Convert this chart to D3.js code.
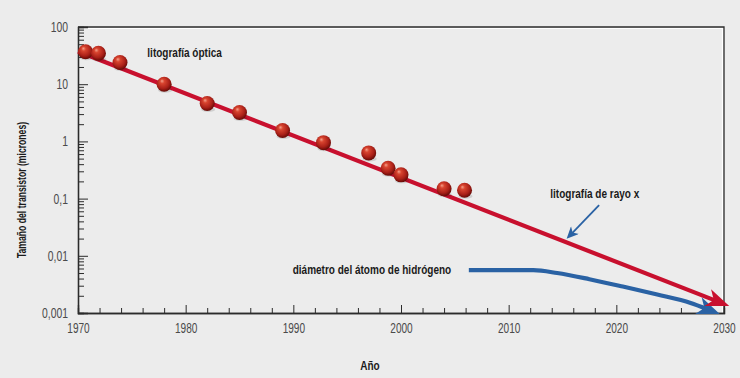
<!DOCTYPE html>
<html>
<head>
<meta charset="utf-8">
<script src="https://cdn.jsdelivr.net/npm/d3@7"></script>
<style>
  html, body { margin: 0; padding: 0; background: #ececec; }
  svg { display: block; }
  .tick-label { font-family: "Liberation Sans", Arial, sans-serif; font-size: 14px; fill: #4a4a4a; }
  .bold { font-family: "Liberation Sans", Arial, sans-serif; font-weight: bold; font-size: 13px; fill: #1a1a1a; }
</style>
</head>
<body>
<svg id="chart"></svg>
<script>
// measured points (year, size in microns)
var years = [1970.7, 1971.9, 1973.9, 1978, 1982, 1985, 1989, 1992.8, 1997, 1998.8, 2000, 2004, 2005.9];
var sizes = [37, 34.7, 24, 10, 4.6, 3.2, 1.55, 0.95, 0.63, 0.34, 0.26, 0.149, 0.14];

// optical lithography trend line
var trendYears = [1970, 2029.1];
var trendSizes = [37.3, 0.00168];

// hydrogen atom diameter curve
var hydYears = [2006.3, 2012.3, 2014.5, 2017.5, 2020.6, 2023.8, 2026.9, 2028.4];
var hydSizes = [0.0056, 0.0056, 0.0050, 0.0039, 0.0029, 0.0021, 0.0015, 0.00118];

// x-ray pointer
var pointerYears = [2018.4, 2015.9];
var pointerSizes = [0.077, 0.025];

var xTicks = [1970, 1980, 1990, 2000, 2010, 2020, 2030];
var yTicks = [100, 10, 1, 0.1, 0.01, 0.001];
var yTickLabels = ['100', '10', '1', '0,1', '0,01', '0,001'];

var labelTexts = ['litografía óptica', 'litografía de rayo x', 'diámetro del átomo de hidrógeno'];
var labelYears = [1979.9, 2018, 1997.3];
var labelSizes = [30, 0.102, 0.0049];

var W = 740, H = 378,
    mLeft = 78, mRight = 724, mTop = 27, mBottom = 313;

var svg = d3.select('#chart').attr('width', W).attr('height', H);

svg.append('rect').attr('width', W).attr('height', H).attr('fill', '#ececec');

var x = d3.scaleLinear().domain([1970, 2030]).range([mLeft, mRight]);
var y = d3.scaleLog().domain([0.001, 100]).range([mBottom, mTop]);

// squeeze text to look like a condensed face
function condense(sel, k) {
  sel.each(function() {
    var w = this.getComputedTextLength();
    d3.select(this).attr('textLength', w * k).attr('lengthAdjust', 'spacingAndGlyphs');
  });
}

var defs = svg.append('defs');
var grad = defs.append('radialGradient').attr('id', 'ball')
  .attr('cx', '45%').attr('cy', '40%').attr('r', '60%')
  .attr('fx', '35%').attr('fy', '28%');
grad.append('stop').attr('offset', '0%').attr('stop-color', '#f4a08a');
grad.append('stop').attr('offset', '25%').attr('stop-color', '#d8442f');
grad.append('stop').attr('offset', '70%').attr('stop-color', '#aa2018');
grad.append('stop').attr('offset', '100%').attr('stop-color', '#640a06');

function marker(id, color, len, half, back) {
  defs.append('marker').attr('id', id)
    .attr('markerUnits', 'userSpaceOnUse')
    .attr('viewBox', (-len) + ' ' + (-half) + ' ' + (len + back + 1) + ' ' + (2 * half))
    .attr('markerWidth', len + back + 1).attr('markerHeight', 2 * half)
    .attr('refX', -back).attr('refY', 0)
    .attr('orient', 'auto')
    .append('path')
    .attr('d', 'M' + back + ',0 L' + (back - len) + ',' + (-half) + ' L' + (back - len * 0.72) + ',0 L' + (back - len) + ',' + half + ' Z')
    .attr('fill', color);
}
marker('redHead', '#c8102e', 23, 9, 8);
marker('blueHead', '#2a62a4', 23, 9, 7);
marker('ptrHead', '#2a62a4', 12, 5.5, 4);

// frame (top and right) with light inner edge
svg.append('path')
  .attr('d', 'M' + mLeft + ',' + (mTop + 1.5) + 'H' + (mRight - 1.5) + 'V' + mBottom)
  .attr('fill', 'none').attr('stroke', '#ffffff').attr('stroke-width', 1.2);
svg.append('path')
  .attr('d', 'M' + mLeft + ',' + mTop + 'H' + mRight + 'V' + mBottom)
  .attr('fill', 'none').attr('stroke', '#2b2b2b').attr('stroke-width', 1.3);

// y axis: minor ticks, major ticks, labels
var yMinor = [];
d3.range(-3, 2).forEach(function(p) {
  for (var k = 2; k <= 9; k++) yMinor.push(k * Math.pow(10, p));
});
var gy = svg.append('g').attr('transform', 'translate(' + mLeft + ',0)');
gy.call(d3.axisRight(y).tickValues(yMinor).tickSize(6).tickFormat(''));
gy.append('g').call(d3.axisRight(y).tickValues(yTicks).tickSize(10).tickFormat(''));
gy.selectAll('path.domain').attr('stroke', '#2b2b2b').attr('stroke-width', 1.3);
gy.selectAll('.tick line').attr('stroke', '#2b2b2b').attr('stroke-width', 1);

var gyl = svg.append('g').attr('transform', 'translate(' + mLeft + ',0)')
  .call(d3.axisLeft(y).tickValues(yTicks).tickSize(0).tickPadding(10)
    .tickFormat(function(d, i) { return yTickLabels[i]; }));
gyl.attr('font-family', null).attr('font-size', null);
gyl.select('path.domain').remove();
gyl.selectAll('text').attr('class', 'tick-label').attr('fill', null).call(condense, 0.74);

// x axis
var xMinor = d3.range(1972, 2030, 2).filter(function(v) { return v % 10 !== 0; });
var gx = svg.append('g').attr('transform', 'translate(0,' + mBottom + ')');
gx.call(d3.axisTop(x).tickValues(xMinor).tickSize(5).tickFormat(''));
gx.append('g').call(d3.axisTop(x).tickValues(xTicks).tickSize(8).tickFormat(''));
gx.selectAll('path.domain').attr('stroke', '#2b2b2b').attr('stroke-width', 1.3);
gx.selectAll('.tick line').attr('stroke', '#2b2b2b').attr('stroke-width', 1);

var gxl = svg.append('g').attr('transform', 'translate(0,' + mBottom + ')')
  .call(d3.axisBottom(x).tickValues(xTicks).tickSize(0).tickPadding(10).tickFormat(d3.format('d')));
gxl.attr('font-family', null).attr('font-size', null);
gxl.select('path.domain').remove();
gxl.selectAll('text').attr('class', 'tick-label').attr('fill', null).call(condense, 0.72);

// axis titles
svg.append('text').attr('class', 'bold')
  .attr('x', (mLeft + mRight) / 2 - 31).attr('y', 370)
  .attr('text-anchor', 'middle').text('Año').call(condense, 0.77);
svg.append('text').attr('class', 'bold')
  .style('font-size', '12px')
  .attr('transform', 'translate(26,190) rotate(-90)')
  .attr('text-anchor', 'middle').text('Tamaño del transistor (micrones)').call(condense, 0.72);

var line = d3.line().x(function(d) { return x(d[0]); }).y(function(d) { return y(d[1]); });

// hydrogen curve
svg.append('path')
  .datum(d3.zip(hydYears, hydSizes))
  .attr('d', line.curve(d3.curveMonotoneX))
  .attr('fill', 'none').attr('stroke', '#2a62a4').attr('stroke-width', 4.2)
  .attr('marker-end', 'url(#blueHead)');

// trend
svg.append('path')
  .datum(d3.zip(trendYears, trendSizes))
  .attr('d', line.curve(d3.curveLinear))
  .attr('fill', 'none').attr('stroke', '#c8102e').attr('stroke-width', 4.2)
  .attr('marker-end', 'url(#redHead)');

// pointer arrow
svg.append('path')
  .datum(d3.zip(pointerYears, pointerSizes))
  .attr('d', line.curve(d3.curveLinear))
  .attr('fill', 'none').attr('stroke', '#2a62a4').attr('stroke-width', 1.8)
  .attr('marker-end', 'url(#ptrHead)');

// balls
var pts = d3.zip(years, sizes);
svg.append('g').selectAll('ellipse').data(pts).enter().append('ellipse')
  .attr('cx', function(d) { return x(d[0]) + 1; })
  .attr('cy', function(d) { return y(d[1]) + 6; })
  .attr('rx', 7).attr('ry', 2.5)
  .attr('fill', 'rgba(0,0,0,0.12)');
svg.append('g').selectAll('circle').data(pts).enter().append('circle')
  .attr('cx', function(d) { return x(d[0]); })
  .attr('cy', function(d) { return y(d[1]); })
  .attr('r', 7.5)
  .attr('fill', 'url(#ball)');

// labels
svg.append('g').selectAll('text').data(labelTexts).enter().append('text')
  .attr('class', 'bold')
  .attr('text-anchor', 'middle')
  .attr('x', function(d, i) { return x(labelYears[i]); })
  .attr('y', function(d, i) { return y(labelSizes[i]); })
  .text(function(d) { return d; })
  .call(condense, 0.77);
</script>
</body>
</html>
